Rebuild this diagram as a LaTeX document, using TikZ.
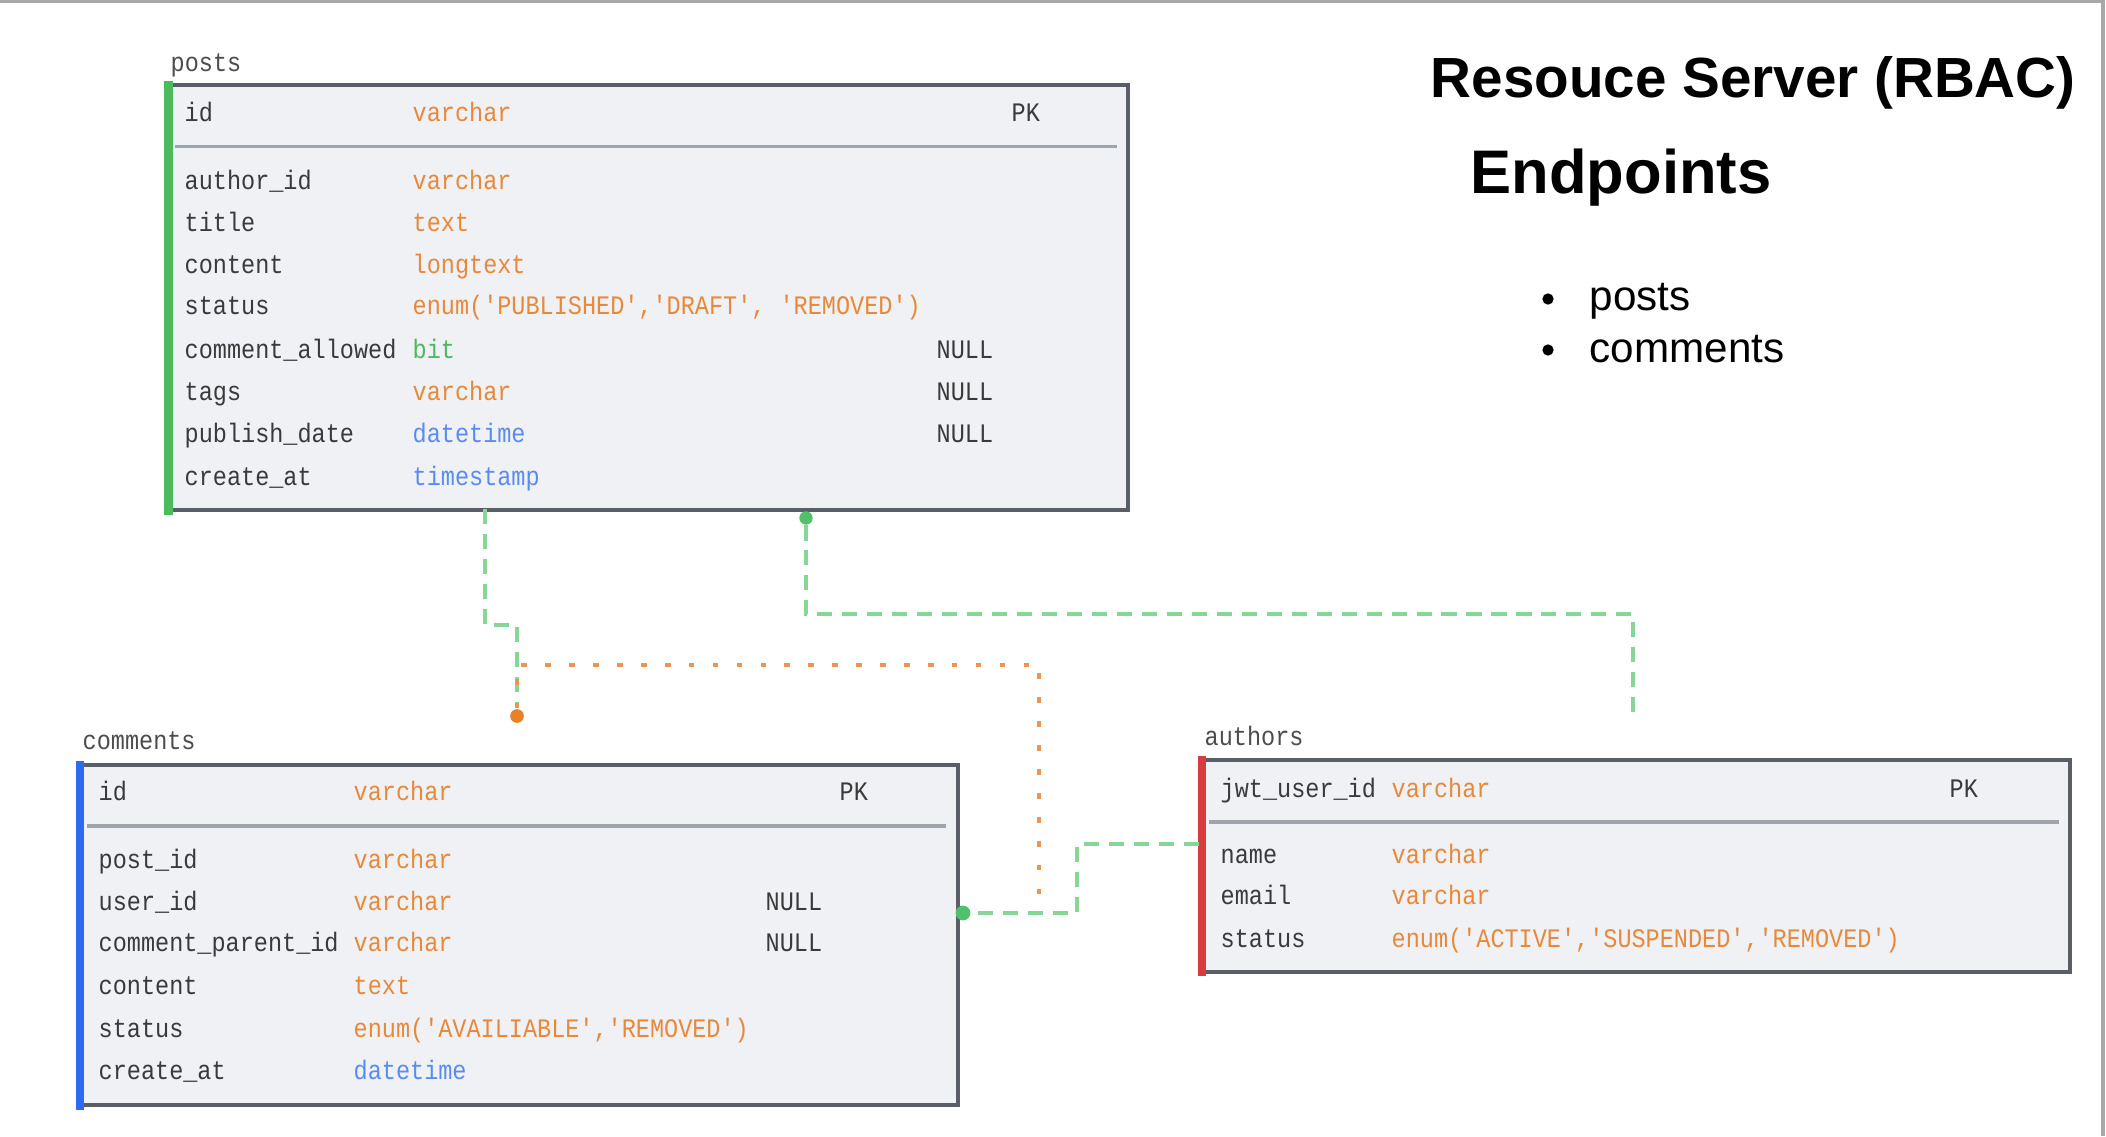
\documentclass[tikz,border=0pt]{standalone}
\usepackage{fontspec}
\setmainfont{Liberation Sans}
\newfontfamily\dbfont{Liberation Mono}[FakeStretch=0.88,Ligatures=TeXOff]
\usetikzlibrary{positioning}

\definecolor{tblfill}{HTML}{EFF1F5}
\definecolor{tblline}{HTML}{5A5E68}
\definecolor{sepline}{HTML}{A0A4AC}
\definecolor{fldtext}{HTML}{3A3A3A}
\definecolor{tyor}{HTML}{E8893A}
\definecolor{tybl}{HTML}{5A8CF0}
\definecolor{tygr}{HTML}{4DB85F}
\definecolor{bargreen}{HTML}{4CBB5E}
\definecolor{barblue}{HTML}{2D6BF0}
\definecolor{barred}{HTML}{D83C3C}
\definecolor{relgreen}{HTML}{86D69A}
\definecolor{relorange}{HTML}{EC9450}
\definecolor{dotgreen}{HTML}{52C06A}
\definecolor{dotorange}{HTML}{E8822A}
\definecolor{framegrey}{HTML}{A8A8A8}

\begin{document}
\begin{tikzpicture}[x=0.01cm,y=-0.01cm,
    tbl/.style={draw=tblline,line width=1.2pt,fill=tblfill,anchor=north west,inner sep=0pt},
    fld/.style={font=\dbfont\fontsize{7.6}{9}\selectfont,text=fldtext,anchor=base west,inner sep=0pt},
    tname/.style={fld,text=black!70},
    sep/.style={draw=sepline,line width=1pt},
    relg/.style={draw=relgreen,line width=0.9pt,dash pattern=on 4.3pt off 2.8pt},
    relo/.style={draw=relorange,line width=1.2pt,dash pattern=on 1.6pt off 5.2pt},
    dotg/.style={circle,fill=dotgreen,inner sep=0pt,minimum size=3.8pt},
    doto/.style={circle,fill=dotorange,inner sep=0pt,minimum size=3.9pt},
    bul/.style={circle,fill=black,inner sep=0pt,minimum size=3.2pt},
    ep/.style={font=\fontsize{12}{15}\selectfont,anchor=base west,inner sep=0pt}]
  \useasboundingbox (0,0) rectangle (2106,1136);
  \draw[framegrey,line width=0.9pt] (0,1.5) -- (2103,1.5) -- (2103,1136);

  % posts
  \node[tbl,minimum width=9.59cm,minimum height=4.25cm] (posts) at (166.5,83) {};
  \fill[bargreen] ([xshift=-0.6pt,yshift=0.6pt]posts.north west) rectangle ([xshift=1.8pt,yshift=-0.6pt]posts.south west);
  \node[tname] (posts-name) at (170,71) {posts};
  \node[fld] (posts-id) at (184,121) {id};
  \node[fld,text=tyor] (posts-idt) at (412,121) {varchar};
  \node[fld] (posts-pk) at (1011,121) {PK};
  \draw[sep] (175,146.5) -- (1117,146.5);
  \foreach \i/\f/\t/\c/\n/\yy in {1/author\_id/varchar/tyor//189,
      2/title/text/tyor//231, 3/content/longtext/tyor//273,
      4/status/{enum('PUBLISHED','DRAFT', 'REMOVED')}/tyor//314,
      5/comment\_allowed/bit/tygr/NULL/358, 6/tags/varchar/tyor/NULL/400,
      7/publish\_date/datetime/tybl/NULL/442, 8/create\_at/timestamp/tybl//485}{
    \node[fld] (posts-f\i) at (184,\yy) {\f};
    \node[fld,text=\c] (posts-t\i) at (412,\yy) {\t};
    \node[fld] (posts-n\i) at (936,\yy) {\n};
  }

  % comments
  \node[tbl,minimum width=8.77cm,minimum height=3.40cm] (comments) at (78,763) {};
  \fill[barblue] ([xshift=-0.6pt,yshift=0.6pt]comments.north west) rectangle ([xshift=1.8pt,yshift=-0.6pt]comments.south west);
  \node[tname] (comments-name) at (82,749) {comments};
  \node[fld] (comments-id) at (98,800) {id};
  \node[fld,text=tyor] (comments-idt) at (353,800) {varchar};
  \node[fld] (comments-pk) at (839,800) {PK};
  \draw[sep] (87,826) -- (946,826);
  \foreach \i/\f/\t/\c/\n/\yy in {1/post\_id/varchar/tyor//868,
      2/user\_id/varchar/tyor/NULL/910, 3/comment\_parent\_id/varchar/tyor/NULL/951,
      4/content/text/tyor//994, 5/status/{enum('AVAILIABLE','REMOVED')}/tyor//1037,
      6/create\_at/datetime/tybl//1079}{
    \node[fld] (comments-f\i) at (98,\yy) {\f};
    \node[fld,text=\c] (comments-t\i) at (353,\yy) {\t};
    \node[fld] (comments-n\i) at (765,\yy) {\n};
  }

  % authors
  \node[tbl,minimum width=8.67cm,minimum height=2.12cm] (authors) at (1200,758) {};
  \fill[barred] ([xshift=-0.6pt,yshift=0.6pt]authors.north west) rectangle ([xshift=1.8pt,yshift=-0.6pt]authors.south west);
  \node[tname] (authors-name) at (1204,745) {authors};
  \node[fld] (authors-id) at (1220,797) {jwt\_user\_id};
  \node[fld,text=tyor] (authors-idt) at (1391,797) {varchar};
  \node[fld] (authors-pk) at (1949,797) {PK};
  \draw[sep] (1209,822) -- (2059,822);
  \foreach \i/\f/\t/\yy in {1/name/varchar/863, 2/email/varchar/904,
      3/status/{enum('ACTIVE','SUSPENDED','REMOVED')}/947}{
    \node[fld] (authors-f\i) at (1220,\yy) {\f};
    \node[fld,text=tyor] (authors-t\i) at (1391,\yy) {\t};
  }

  % relations
  \node[dotg] (posts-dot) at (806,518) {};
  \node[doto] (comments-dot) at (517,716) {};
  \node[dotg] (comments-end) at (963,913) {};
  \coordinate (posts-out) at (485,509);
  \coordinate (self-turn) at (1039,665);
  \coordinate (authors-in) at (1633,718);
  \coordinate (authors-side) at (1199,844);
  \draw[relg] (posts-out) -- ++(0,116) -| (comments-dot);
  \draw[relo] (comments-dot) |- (self-turn) |- (comments-end);
  \draw[relg] (posts-dot) -- ++(0,96) -| (authors-in);
  \draw[relg] (authors-side) -- ++(-122,0) |- (comments-end);
  \node[dotg,minimum size=4.2pt] at (comments-end) {};

  % endpoints
  \node[font=\bfseries\fontsize{16.1}{19}\selectfont,anchor=base west,inner sep=0pt] (title) at (1430,97) {Resouce Server (RBAC)};
  \node[font=\bfseries\fontsize{17.5}{21}\selectfont,anchor=base west,inner sep=0pt] (endpoints) at (1470,193) {Endpoints};
  \node[bul] (ep-posts-b) at (1548,299) {};
  \node[ep] (ep-posts) at (1589,310) {posts};
  \node[bul] (ep-comments-b) at (1548,350) {};
  \node[ep] (ep-comments) at (1589,362) {comments};
\end{tikzpicture}
\end{document}
